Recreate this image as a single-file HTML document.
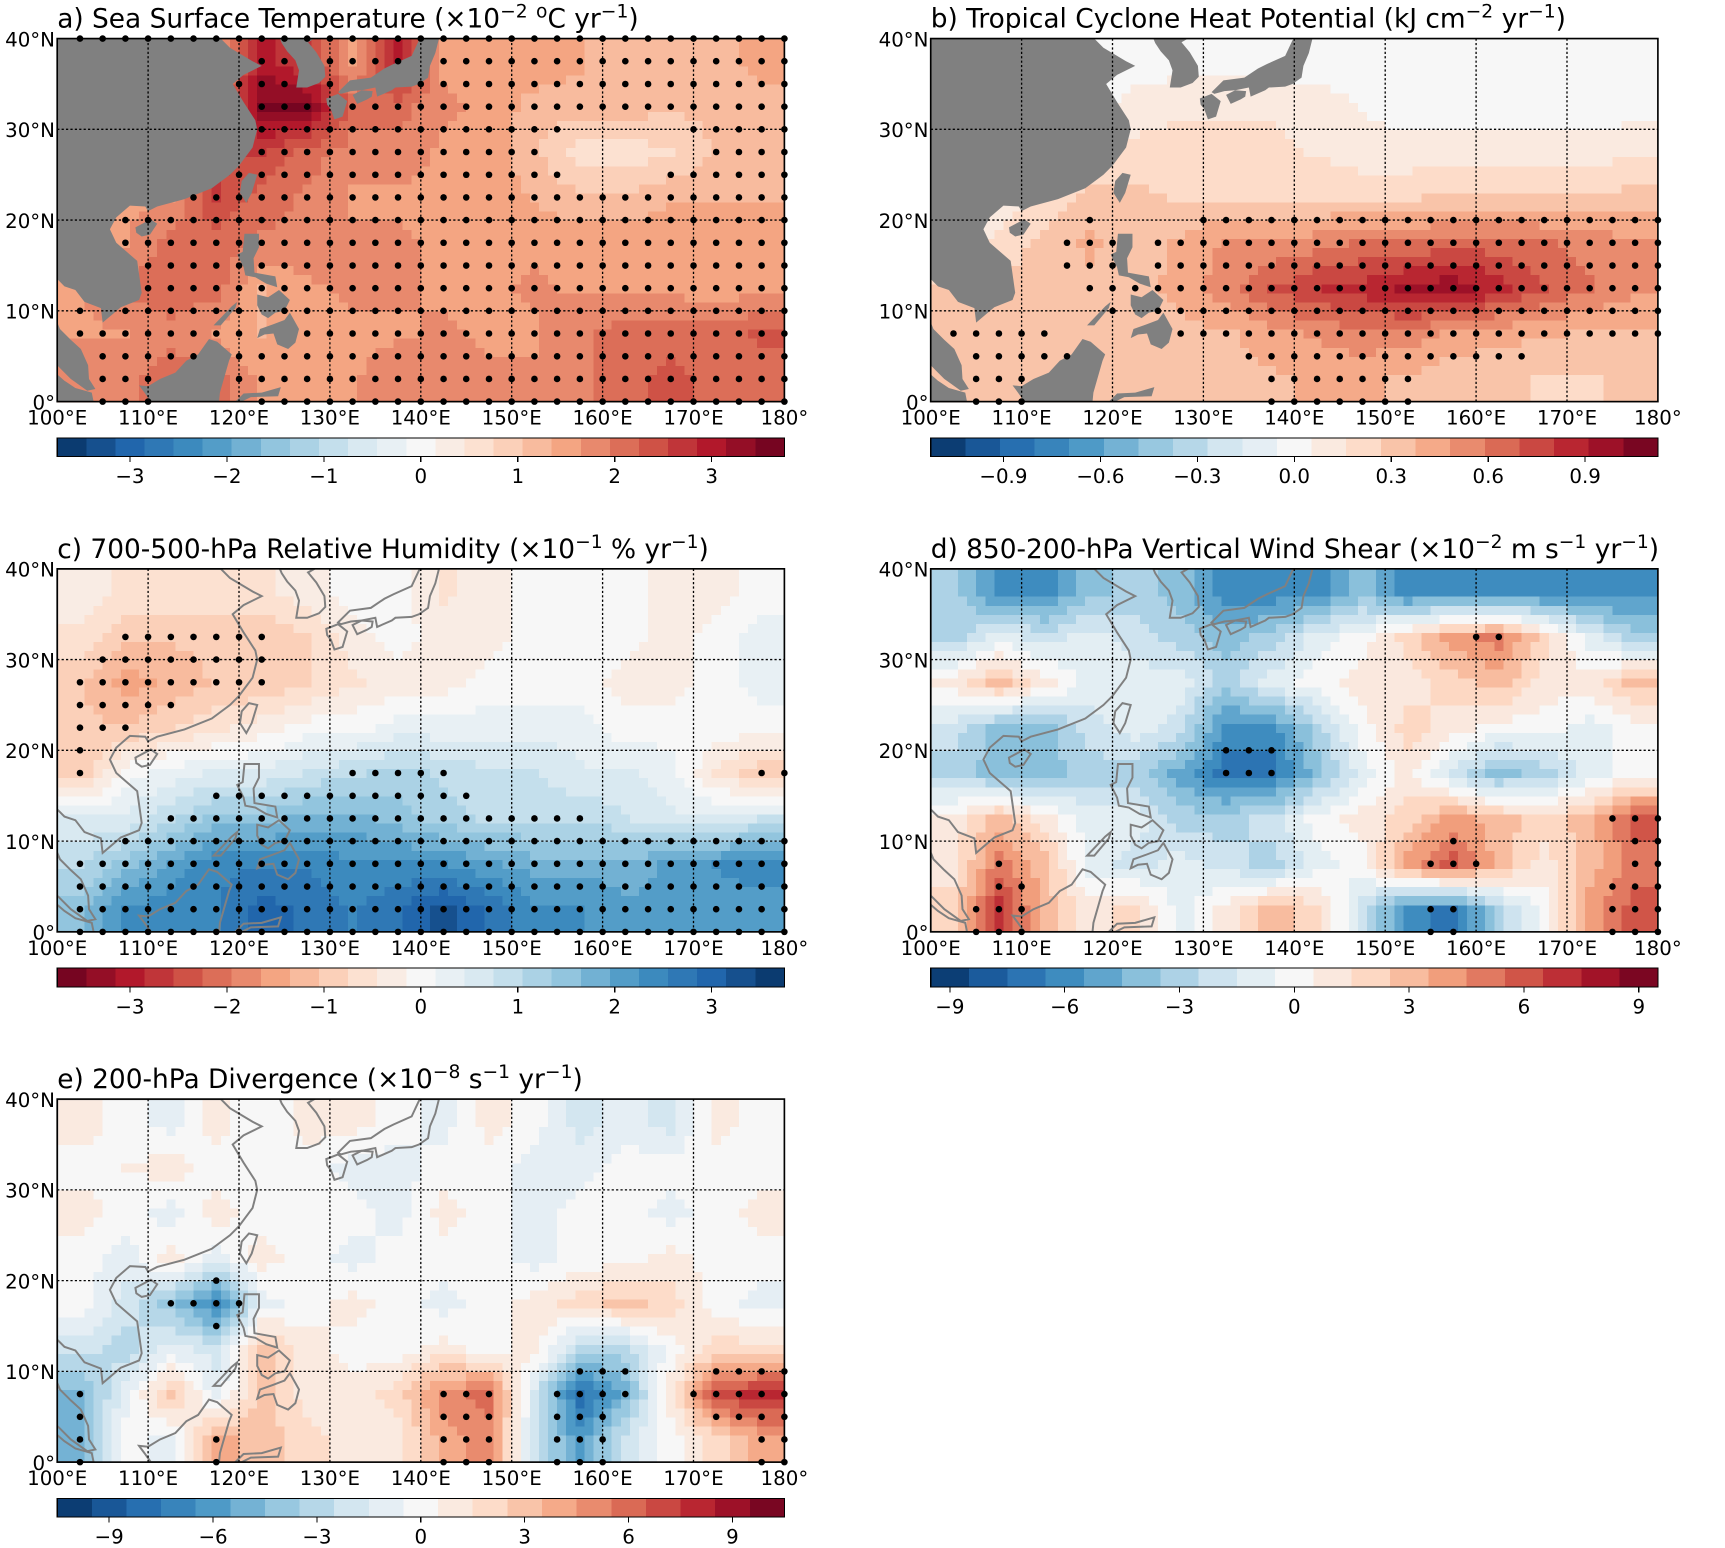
<!DOCTYPE html>
<html><head><meta charset="utf-8"><style>
html,body{margin:0;padding:0;background:#fff;}
svg{display:block;font-family:"DejaVu Sans","Liberation Sans",sans-serif;}
</style></head><body>
<svg id="fig" width="1725" height="1548" viewBox="0 0 1568 1407" xmlns="http://www.w3.org/2000/svg"></svg>
<script>
// Grid values: rows lat 40-35 ... 5-0 (north->south), cols lon 100-105 ... 175-180
const sstValues = [
 [1.6,1.6,1.6,1.6,3,2.6,1.6,3,1.6,1.6,1.6,1.4,1.1,1.1,1.1,1.6],
 [1.6,1.6,1.6,1.6,3.5,3.5,2.1,2.1,1.7,1.6,1.2,1.2,1.2,1.1,1.1,1.1],
 [1.6,1.6,1.6,2.6,2.6,2.1,1.8,1.8,1.6,1.6,1.1,0.6,0.6,0.7,1.1,1.2],
 [1.6,1.6,1.6,2.6,2.1,1.9,1.6,1.6,1.6,1.6,1.3,1.1,1.1,1.3,1.3,1.3],
 [1.1,1.6,2.1,2.1,1.9,1.8,1.7,1.7,1.6,1.6,1.6,1.6,1.6,1.6,1.6,1.6],
 [1.6,2.1,2.1,2.1,1.3,1.6,1.7,1.7,1.6,1.6,1.7,1.6,1.6,1.6,1.4,1.6],
 [1.6,1.6,1.9,1.6,1.3,1.6,1.6,1.6,1.7,1.6,1.6,1.9,2.1,2.1,2.1,2.3],
 [1.9,1.9,2.1,2.1,1.6,1.6,1.6,1.9,1.9,1.7,1.7,1.9,2.1,2.4,2.1,2.1]
];
const tchpValues = [
 [0,0,0,0,0,0,0,0,0,0,0,0,0,0,0,0],
 [0,0,0,0,0.1,0.15,0.15,0.15,0.1,0.05,0,0,0,0,0,0],
 [0,0,0,0.15,0.2,0.2,0.2,0.2,0.15,0.1,0.1,0.1,0.1,0.1,0.1,0.15],
 [0,0.1,0.2,0.3,0.3,0.25,0.25,0.25,0.25,0.25,0.25,0.3,0.3,0.3,0.3,0.3],
 [0.1,0.2,0.3,0.4,0.3,0.4,0.5,0.5,0.55,0.6,0.6,0.65,0.65,0.6,0.55,0.5],
 [0.3,0.3,0.3,0.35,0.35,0.4,0.55,0.7,0.8,0.85,0.95,1.0,0.85,0.7,0.6,0.5],
 [0.35,0.35,0.35,0.3,0.35,0.35,0.35,0.45,0.5,0.55,0.55,0.45,0.4,0.4,0.35,0.35],
 [0.35,0.35,0.35,0.35,0.3,0.3,0.3,0.35,0.4,0.4,0.35,0.3,0.3,0.25,0.25,0.3]
];
const rhValues = [
 [-0.3,-0.5,-0.5,-0.5,-0.5,-0.3,0,0,-0.5,-0.3,0,0,0,-0.3,-0.3,0],
 [-0.5,-1,-1,-1,-1,-0.8,-0.3,0,-0.3,-0.3,0,0,0,-0.3,0,0.3],
 [-1,-1.5,-1.3,-1,-1,-0.8,-0.5,-0.3,-0.3,0,0,0,-0.3,-0.3,0,0.3],
 [-1,-1,-0.8,-0.5,-0.3,0,0,0.3,0.3,0.3,0.3,0.3,0,0,0,0],
 [-1,0,0.3,0.5,0.5,0.8,1,1.2,1,0.8,0.8,0.5,0.5,0.3,-0.5,-1],
 [0.5,0.5,1,1.5,1.5,1.8,1.8,1.5,1.2,1,1,1,0.8,0.5,0.5,0.8],
 [1,1.5,2,2.5,2.5,2.5,2.3,2.3,2.3,2,1.8,1.8,1.8,2,2.3,2.5],
 [1.5,2.3,2.5,2.5,3,2.8,2.5,2.8,3.3,2.8,2.3,2.3,2,2,2,2]
];
const shearValues = [
 [-3,-6,-6,-4,-3,-4,-6.2,-6.2,-6,-4,-6.2,-6.2,-6.3,-6.2,-6.2,-6],
 [-3,-1,-2,-1,-2,-3,-4,-3,-1,0,2,4,5,2,-1,-3],
 [1,3,1,-1,-1,-1,-3,-1,0,1,1,2,3,1,1,3],
 [-2,-4,-4,-2,-1,-2,-6,-6,-3,0,2,1,0,0,-1,0],
 [-3,-4,-4,-3,-3,-5,-7,-7,-4,-1,1,-2,-4,-3,-1,0],
 [1,3,1,-1,-1,-3,-3,-2,0,1,2,4,3,2,3,6],
 [1,5,3,-1,-2,-1,-2,-3,-1,0,4,6,3,1,3,5],
 [2,7,3,1,2,-1,1,3,2,-2,-6,-7,-3,0,4,6]
];
const divValues = [
 [1,0,-1,1,-0.5,1,1,0,-1,1,0,-2,-1,-2,1,0],
 [0,0.5,1,0,0,0,-1,-1,0,0,-1,-1,0,0,0,0],
 [1,0,-1,1,0,0,0,-1,1,0,-1,0,0,-1,0,1],
 [0,-1,1,-1,1,0,-1,0,0,0,-1,0,0,1,0,0],
 [0,-2,-4,-7,-1,0,1,0,-1,0,1,2,3,2,0,-1],
 [-2,-3,-1,-2,3,1,0,0,1,0,1,-3,-3,0,2,2],
 [-5,-1,3,-1,3,1,1,2,5,6,-2,-8,-5,1,7,8],
 [-5,0,-1,4,3,2,1,1,4,5,-2,-6,-2,0,2,4]
];
const lonTicks = ["100°E","110°E","120°E","130°E","140°E","150°E","160°E","170°E","180°"];
const latTicks = ["0°","10°N","20°N","30°N","40°N"];
const sstCbarTicks = [-3,-2,-1,0,1,2,3];
const tchpCbarTicks = [-0.9,-0.6,-0.3,0,0.3,0.6,0.9];
const rhCbarTicks = [-3,-2,-1,0,1,2,3];
const shearCbarTicks = [-9,-6,-3,0,3,6,9];
const divCbarTicks = [-9,-6,-3,0,3,6,9];

const NS='http://www.w3.org/2000/svg';
const svg=document.getElementById('fig');
function mk(tag,attrs,parent){const e=document.createElementNS(NS,tag);for(const k in attrs)e.setAttribute(k,attrs[k]);(parent||svg).appendChild(e);return e;}

const W=661,H=330;
const stops=['#053061','#2166ac','#4393c3','#92c5de','#d1e5f0','#f7f7f7','#fddbc7','#f4a582','#d6604d','#b2182b','#67001f'];
function hex(h){return [1,3,5].map(i=>parseInt(h.substr(i,2),16));}
const stopRGB=stops.map(hex);
function cmap(t){t=Math.max(0,Math.min(1,t));const p=t*10,i=Math.min(9,Math.floor(p)),f=p-i;const a=stopRGB[i],b=stopRGB[i+1];
 return 'rgb('+a.map((v,k)=>Math.round(v+(b[k]-v)*f)).join(',')+')';}

const mainland=[[100,40],[118,40],[119,39],[121.5,37.5],[122.5,37],[120.5,36],[119.3,35],[120.5,33],[121.8,31],[122,30],[121.5,28],[120,26],[119,25],[117,23.5],[114,22.3],[111,21.5],[110,21],[109.7,21.5],[108,21.6],[106.5,20.3],[105.8,19],[106.5,17.5],[108.8,15.5],[109.3,12],[109,11.2],[107,10.4],[105,8.7],[104.8,10.3],[103,11],[102,12.3],[100.8,12.7],[100,13.5],[100,13],[100,12],[99.5,10],[100.3,8],[101.5,6.8],[102.6,5.8],[103.4,4],[103.5,2.5],[104.2,1.4],[103.3,1.2],[101.5,2.5],[100.5,3.5],[100,4]];
const sumatra=[[100,3],[100,0],[104,0],[103.8,1],[102,1.5],[100.8,2.3]];
const korea=[[124.5,40],[124.7,39.5],[125.3,38.6],[126.2,37.6],[126.6,36.5],[126.3,34.6],[127.5,34.6],[128.8,35.1],[129.5,35.8],[129.4,37],[128.5,38.5],[127.6,39.6],[128.3,40]];
const honshu=[[130.9,34.1],[132.2,35.4],[134.5,35.7],[136,36.7],[137,37.2],[139,38.1],[139.8,39.8],[140,40],[142,40],[141.6,38.4],[141,37],[140.8,35.7],[139.8,35],[139,34.7],[137.2,34.6],[136.8,34.3],[135.2,33.6],[135,34.6],[133.5,34.3],[132.3,34.2],[131.2,33.9]];
const kyushu=[[129.6,33.4],[130.9,33.9],[131.9,33.1],[131.4,31.4],[130.5,31.1],[130.1,32.2],[129.7,32.7]];
const shikoku=[[132.5,33.8],[133.5,34.3],[134.7,34.2],[134.6,33.6],[134.1,33.3],[133,32.8]];
const taiwan=[[121.1,25.2],[122,25],[121.4,23],[120.8,21.9],[120.1,23],[120.3,24.3]];
const hainan=[[108.6,19.2],[110.3,20.1],[111,19.6],[110.2,18.4],[109.3,18.2],[108.7,18.6]];
const luzon=[[120.6,18.5],[122.2,18.5],[122.2,17],[121.6,15.8],[121.7,14.2],[124,13.8],[124.2,12.6],[123,13],[121.8,13.7],[120.7,13.9],[120.5,14.8],[119.8,16.2],[120.4,16.5]];
const visayas=[[122,11.8],[123.2,11.5],[124.4,12.3],[125.6,11.2],[125,10],[124,9.8],[123.2,9.2],[122.5,9.6],[122,10.6]];
const mindanao=[[122,7],[122.3,8],[123.7,8.5],[125,9],[125.6,9.8],[126.6,8],[126.2,6.5],[125.4,5.8],[124.2,6.3],[123.8,7.5],[122.8,7.4]];
const palawan=[[117.2,8.4],[119.2,10.5],[119.8,11],[119.6,10.3],[118,8.4]];
const borneo=[[109,1.8],[109.6,1],[110.3,0],[117.8,0],[117.9,1],[118.9,4.5],[119.2,5.2],[117.6,6.6],[116.7,6.9],[115.5,5.2],[114.2,4.5],[113,3.2],[111.3,2.5],[110,1.7]];
const sulawesi=[[119.6,0],[120.5,0.9],[122.5,1],[124.6,1.6],[124.3,0.6],[121.3,0.5],[120.3,0]];
const lands=[mainland,sumatra,korea,honshu,kyushu,shikoku,taiwan,hainan,luzon,visayas,mindanao,palawan,borneo,sulawesi];
const landNames=['mainland-asia','sumatra','korea','honshu','kyushu','shikoku','taiwan','hainan','luzon','visayas','mindanao','palawan','borneo','sulawesi'];
function inPoly(x,y,poly){let c=false;for(let i=0,j=poly.length-1;i<poly.length;j=i++){const [xi,yi]=poly[i],[xj,yj]=poly[j];
 if(((yi>y)!=(yj>y))&&(x<(xj-xi)*(y-yi)/(yj-yi)+xi))c=!c;}return c;}
function onLand(lon,lat){return lands.some(p=>inPoly(lon,lat,p));}

function interp(data,lon,lat){
 let fi=(lon-102.5)/5, fj=(37.5-lat)/5;
 fi=Math.max(0,Math.min(15,fi)); fj=Math.max(0,Math.min(7,fj));
 const i0=Math.min(14,Math.floor(fi)), j0=Math.min(6,Math.floor(fj)); const a=fi-i0,b=fj-j0;
 return data[j0][i0]*(1-a)*(1-b)+data[j0][i0+1]*a*(1-b)+data[j0+1][i0]*(1-a)*b+data[j0+1][i0+1]*a*b;
}

const panels=[
 {key:'sst',x0:52,y0:35,data:sstValues,vmax:3.75,n:25,rev:false,fillLand:true,ticks:sstCbarTicks,thrPos:1.0,thrNeg:1.0,
  title:[['a) Sea Surface Temperature (×10',0],['−2',-9,1],[' ',9],['o',-9,1],['C yr',9],['−1',-9,1],[')',9]]},
 {key:'tchp',x0:846,y0:35,data:tchpValues,vmax:1.125,n:21,rev:false,fillLand:true,ticks:tchpCbarTicks,thrPos:0.33,thrNeg:0.33,
  title:[['b) Tropical Cyclone Heat Potential (kJ cm',0],['−2',-9,1],[' yr',9],['−1',-9,1],[')',9]]},
 {key:'rh',x0:52,y0:517,data:rhValues,vmax:3.75,n:25,rev:true,fillLand:false,ticks:rhCbarTicks,thrPos:1.0,thrNeg:1.0,
  title:[['c) 700-500-hPa Relative Humidity (×10',0],['−1',-9,1],[' % yr',9],['−1',-9,1],[')',9]]},
 {key:'shear',x0:846,y0:517,data:shearValues,vmax:9.5,n:19,rev:false,fillLand:false,ticks:shearCbarTicks,thrPos:4.5,thrNeg:6.5,
  title:[['d) 850-200-hPa Vertical Wind Shear (×10',0],['−2',-9,1],[' m s',9],['−1',-9,1],[' yr',9],['−1',-9,1],[')',9]]},
 {key:'div',x0:52,y0:999,data:divValues,vmax:10.5,n:21,rev:false,fillLand:false,ticks:divCbarTicks,thrPos:4.0,thrNeg:4.0,
  title:[['e) 200-hPa Divergence (×10',0],['−8',-9,1],[' s',9],['−1',-9,1],[' yr',9],['−1',-9,1],[')',9]]}
];

function levelColor(p,v){
 let t=(v+p.vmax)/(2*p.vmax); t=Math.max(0,Math.min(0.9999,t));
 let k=Math.floor(t*p.n); let c=(k+0.5)/p.n; if(p.rev)c=1-c; return cmap(c);
}

panels.forEach(p=>{
 const g=mk('g',{});
 
 
 const X=lon=>p.x0+(lon-100)/80*W, Y=lat=>p.y0+(40-lat)/40*H;
 const t=mk('text',{x:p.x0,y:p.y0-10,'font-size':24,fill:'#000'},g);
 
 
 p.title.forEach(seg=>{const s=mk('tspan',{dy:seg[1]},t); if(seg[2])s.setAttribute('font-size',17); s.textContent=seg[0];});
 const cg=mk('g',{'shape-rendering':'crispEdges'},g);
 
 
 const step=1;
 for(let lon=100;lon<180;lon+=step){for(let lat=0;lat<40;lat+=step){
  const v=interp(p.data,lon+step/2,lat+step/2);
  const r=mk('rect',{x:X(lon).toFixed(2),y:Y(lat+step).toFixed(2),width:(W/80*step+0.6).toFixed(2),height:(H/40*step+0.6).toFixed(2),fill:levelColor(p,v)},cg);
  
  
 }}
 const cid='clip-'+p.key;
 const cp=mk('clipPath',{id:cid},g); mk('rect',{x:p.x0,y:p.y0,width:W,height:H},cp);
 const lg=mk('g',{'clip-path':'url(#'+cid+')'},g);
 
 
 lands.forEach((poly,i)=>{
  const pts=poly.map(q=>X(q[0]).toFixed(1)+','+Y(q[1]).toFixed(1)).join(' ');
  const e=mk('polygon',{points:pts,fill:p.fillLand?'#808080':'none',stroke:p.fillLand?'none':'#808080','stroke-width':1.8},lg);
  
  
 });
 const dg=mk('g',{},g);
 
 
 for(let lon=102.5;lon<=180;lon+=2.5){for(let lat=0;lat<=40;lat+=2.5){
  if(p.fillLand&&onLand(lon,lat))continue;
  const v=interp(p.data,lon,lat);
  if(v>=p.thrPos||v<=-p.thrNeg){
   const d=mk('circle',{cx:X(lon).toFixed(1),cy:Y(lat).toFixed(1),r:3,fill:'#000'},dg);
   
   
  }
 }}
 for(let lon=110;lon<180;lon+=10){const l=mk('line',{x1:X(lon),x2:X(lon),y1:p.y0,y2:p.y0+H,stroke:'#000','stroke-width':1.2,'stroke-dasharray':'2,2'},g);
  }
 for(let lat=10;lat<40;lat+=10){const l=mk('line',{x1:p.x0,x2:p.x0+W,y1:Y(lat),y2:Y(lat),stroke:'#000','stroke-width':1.2,'stroke-dasharray':'2,2'},g);
  }
 const fr=mk('rect',{x:p.x0,y:p.y0,width:W,height:H,fill:'none',stroke:'#000','stroke-width':1.5},g);
 
 lonTicks.forEach((s,i)=>{const tx=mk('text',{x:X(100+i*10),y:p.y0+H+21,'font-size':18,'text-anchor':'middle'},g);tx.textContent=s;
  });
 latTicks.forEach((s,i)=>{const tx=mk('text',{x:p.x0-2,y:Y(i*10)+7,'font-size':18,'text-anchor':'end'},g);tx.textContent=s;
  });
 const cy=p.y0+H+33, ch=17;
 const cb=mk('g',{'shape-rendering':'crispEdges'},g);
 
 
 for(let k=0;k<p.n;k++){let c=(k+0.5)/p.n; if(p.rev)c=1-c;
  const r=mk('rect',{x:(p.x0+k*W/p.n).toFixed(2),y:cy,width:(W/p.n+0.5).toFixed(2),height:ch,fill:cmap(c)},cb);
  }
 mk('rect',{x:p.x0,y:cy,width:W,height:ch,fill:'none',stroke:'#000','stroke-width':1},cb);
 p.ticks.forEach(v=>{const x=p.x0+(v+p.vmax)/(2*p.vmax)*W;
  mk('line',{x1:x,x2:x,y1:cy+ch,y2:cy+ch+5,stroke:'#000'},cb);
  const tx=mk('text',{x:x,y:cy+ch+24,'font-size':18,'text-anchor':'middle'},cb);
  let s=(p.key==='tchp')?v.toFixed(1):String(v); tx.textContent=s.replace('-','−');
  });
});
</script>
</body></html>
